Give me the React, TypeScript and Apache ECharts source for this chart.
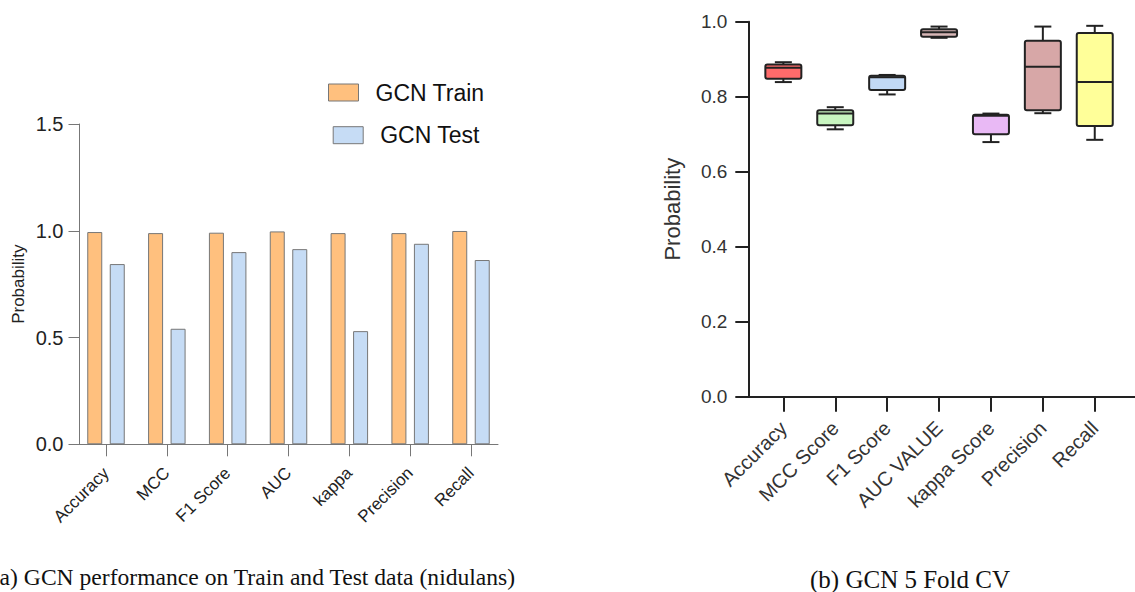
import React, { useEffect, useRef } from "react";
import * as echarts from "echarts";

const barCategories = ["Accuracy", "MCC", "F1 Score", "AUC", "kappa", "Precision", "Recall"];
const trainValues = [0.994, 0.989, 0.991, 0.997, 0.989, 0.989, 0.999];
const testValues = [0.844, 0.541, 0.9, 0.914, 0.53, 0.939, 0.863];
const barTicks = [0, 0.5, 1.0, 1.5];

const boxCategories = ["Accuracy", "MCC Score", "F1 Score", "AUC VALUE", "kappa Score", "Precision", "Recall"];
// [min, q1, median, q3, max]
const boxAccuracy = [0.839, 0.848, 0.877, 0.886, 0.892];
const boxMcc = [0.713, 0.724, 0.755, 0.764, 0.772];
const boxF1 = [0.806, 0.818, 0.852, 0.856, 0.858];
const boxAuc = [0.957, 0.96, 0.972, 0.98, 0.987];
const boxKappa = [0.679, 0.7, 0.749, 0.752, 0.755];
const boxPrecision = [0.756, 0.764, 0.88, 0.949, 0.987];
const boxRecall = [0.685, 0.722, 0.839, 0.97, 0.989];
const boxColors = ["#FF6B6B", "#C8F5C0", "#C2D9F5", "#D8B7B7", "#E9B9F5", "#D7A7A7", "#FFFF99"];

export default function App() {
  const ref = useRef<HTMLDivElement>(null);
  useEffect(() => {
    if (!ref.current) return;
    const chart = echarts.init(ref.current, null, { renderer: "svg" });
    const boxData = [boxAccuracy, boxMcc, boxF1, boxAuc, boxKappa, boxPrecision, boxRecall].map((v, i) => [i, ...v]);

    const option: any = {
      animation: false,
      backgroundColor: "#fff",
      textStyle: { fontFamily: "Liberation Sans, Arial, sans-serif" },
      legend: [
        {
          data: ["GCN Train"],
          left: 328,
          top: 81,
          padding: 0,
          itemWidth: 30,
          itemHeight: 17,
          icon: "rect",
          itemStyle: { borderColor: "#777", borderWidth: 1 },
          textStyle: { fontSize: 23, color: "#111", padding: [0, 0, 0, 12] },
        },
        {
          data: ["GCN Test"],
          left: 332.7,
          top: 123.7,
          padding: 0,
          itemWidth: 30,
          itemHeight: 17,
          icon: "rect",
          itemStyle: { borderColor: "#777", borderWidth: 1 },
          textStyle: { fontSize: 23, color: "#111", padding: [0, 0, 0, 12] },
        },
      ],
      grid: [
        { left: 75.6, width: 425.8, top: 124, height: 320.3 },
        { left: 757.4, width: 363.3, top: 21.7, height: 375 },
        { left: 79.5, width: 418.5, top: 124, height: 320.3 },
        { left: 748.3, width: 386.7, top: 21.7, height: 375 },
      ],
      xAxis: [
        {
          type: "category",
          gridIndex: 0,
          data: barCategories,
          boundaryGap: true,
          axisLine: { show: false },
          axisTick: { show: true, alignWithLabel: true, length: 12, lineStyle: { color: "#777", width: 1 } },
          axisLabel: { rotate: 45, fontSize: 17, color: "#222", margin: 26, interval: 0 },
        },
        {
          type: "category",
          gridIndex: 1,
          data: boxCategories,
          boundaryGap: true,
          axisLine: { show: false },
          axisTick: { show: true, alignWithLabel: true, length: 15, lineStyle: { color: "#222", width: 2 } },
          axisLabel: { rotate: 45, fontSize: 20, color: "#333", margin: 28, interval: 0 },
        },
        {
          type: "value",
          gridIndex: 2,
          min: 0,
          max: 1,
          axisLine: { show: true, lineStyle: { color: "#777", width: 1 } },
          axisTick: { show: false },
          axisLabel: { show: false },
          splitLine: { show: false },
        },
        {
          type: "value",
          gridIndex: 3,
          min: 0,
          max: 1,
          axisLine: { show: true, lineStyle: { color: "#222", width: 2 } },
          axisTick: { show: false },
          axisLabel: { show: false },
          splitLine: { show: false },
        },
      ],
      yAxis: [
        {
          type: "value",
          gridIndex: 0,
          min: barTicks[0],
          max: barTicks[barTicks.length - 1],
          interval: 0.5,
          offset: -3.9,
          name: "Probability",
          nameLocation: "middle",
          nameGap: 53,
          nameTextStyle: { fontSize: 17, color: "#222" },
          axisLine: { show: true, lineStyle: { color: "#777", width: 1 } },
          axisTick: { show: true, length: 11, lineStyle: { color: "#777", width: 1 } },
          axisLabel: { fontSize: 20, color: "#222", margin: 16, formatter: (v: number) => v.toFixed(1) },
          splitLine: { show: false },
        },
        {
          type: "value",
          gridIndex: 1,
          min: 0,
          max: 1,
          interval: 0.2,
          offset: 9.1,
          name: "Probability",
          nameLocation: "middle",
          nameGap: 65,
          nameTextStyle: { fontSize: 22, color: "#333" },
          axisLine: { show: true, lineStyle: { color: "#222", width: 2 } },
          axisTick: { show: true, length: 13, lineStyle: { color: "#222", width: 2 } },
          axisLabel: { fontSize: 19, color: "#333", margin: 21, formatter: (v: number) => v.toFixed(1) },
          splitLine: { show: false },
        },
        { type: "value", gridIndex: 2, min: 0, max: 1, show: false },
        { type: "value", gridIndex: 3, min: 0, max: 1, show: false },
      ],
      series: [
        {
          name: "GCN Train",
          type: "bar",
          xAxisIndex: 0,
          yAxisIndex: 0,
          data: trainValues,
          barWidth: 15,
          barGap: "50%",
          itemStyle: { color: "#FFC07E", borderColor: "#777", borderWidth: 1 },
        },
        {
          name: "GCN Test",
          type: "bar",
          xAxisIndex: 0,
          yAxisIndex: 0,
          data: testValues,
          barWidth: 15,
          barGap: "50%",
          itemStyle: { color: "#C6DCF5", borderColor: "#777", borderWidth: 1 },
        },
        {
          name: "GCN 5 Fold CV",
          type: "custom",
          xAxisIndex: 1,
          yAxisIndex: 1,
          data: boxData,
          encode: { x: 0, y: [1, 2, 3, 4, 5] },
          renderItem: (params: any, api: any) => {
            const idx = api.value(0);
            const pMin = api.coord([idx, api.value(1)]);
            const pQ1 = api.coord([idx, api.value(2)]);
            const pMed = api.coord([idx, api.value(3)]);
            const pQ3 = api.coord([idx, api.value(4)]);
            const pMax = api.coord([idx, api.value(5)]);
            const cx = pMed[0];
            const hw = 18;
            const cap = 8.5;
            const stroke = { stroke: "#222", lineWidth: 2 };
            return {
              type: "group",
              children: [
                { type: "line", shape: { x1: cx, y1: pMax[1], x2: cx, y2: pQ3[1] }, style: stroke },
                { type: "line", shape: { x1: cx, y1: pQ1[1], x2: cx, y2: pMin[1] }, style: stroke },
                { type: "line", shape: { x1: cx - cap, y1: pMax[1], x2: cx + cap, y2: pMax[1] }, style: stroke },
                { type: "line", shape: { x1: cx - cap, y1: pMin[1], x2: cx + cap, y2: pMin[1] }, style: stroke },
                {
                  type: "rect",
                  shape: { x: cx - hw, y: pQ3[1], width: hw * 2, height: pQ1[1] - pQ3[1], r: 2 },
                  style: { fill: boxColors[params.dataIndex], stroke: "#222", lineWidth: 2 },
                },
                { type: "line", shape: { x1: cx - hw, y1: pMed[1], x2: cx + hw, y2: pMed[1] }, style: stroke },
              ],
            };
          },
        },
      ],
      graphic: [
        {
          type: "text",
          right: 1135 - 516,
          top: 565,
          style: {
            text: "(a) GCN performance on Train and Test data (nidulans)",
            font: "23.6px 'Liberation Serif', 'Times New Roman', serif",
            fill: "#111",
          },
        },
        {
          type: "text",
          x: 910,
          y: 579,
          style: {
            text: "(b) GCN 5 Fold CV",
            font: "25px 'Liberation Serif', 'Times New Roman', serif",
            fill: "#111",
            textAlign: "center",
            textVerticalAlign: "middle",
          },
        },
      ],
    };
    chart.setOption(option);
    return () => chart.dispose();
  }, []);
  return <div ref={ref} style={{ width: 1135, height: 592, position: "absolute", left: 0, top: 0 }} />;
}
